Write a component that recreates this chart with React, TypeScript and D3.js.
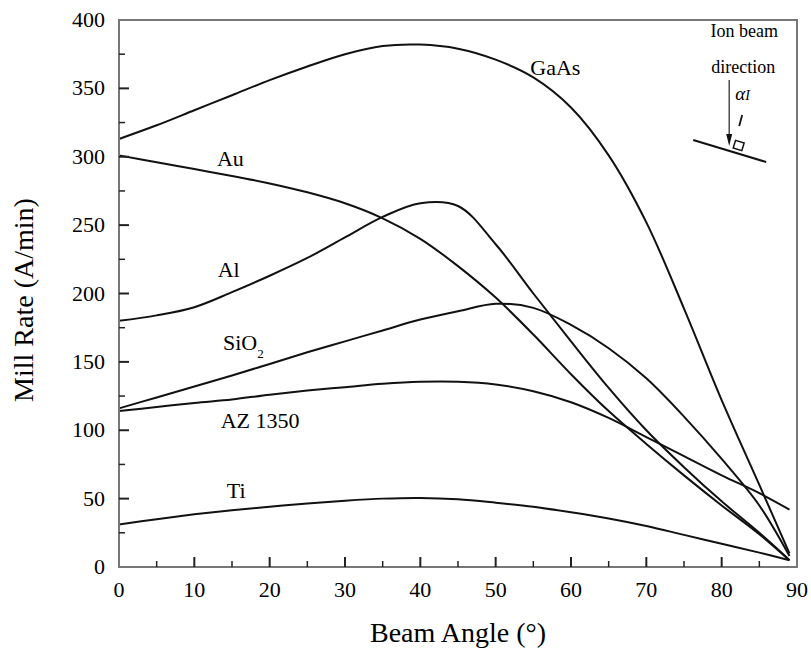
import React, { useEffect, useRef } from 'react';
import * as d3 from 'd3';

// beam angle (deg) and mill rate (A/min)
const angles = [0, 5, 10, 15, 20, 25, 30, 35, 40, 45, 50, 55, 60, 65, 70, 75, 80, 85, 89];
const gaas = [313, 323, 334, 345, 356, 366, 375, 381, 382, 379, 371, 358, 336, 301, 252, 189, 122, 60, 10];
const au = [301, 296, 291, 286, 280.5, 274, 266, 255, 240, 220, 197, 170, 141, 114, 90, 67, 45, 24, 5];
const al = [180, 184, 190, 201, 213, 226, 241, 256, 266, 264, 236, 200, 165, 131, 100, 73, 48, 25, 5];
const sio2 = [116, 124, 132, 140, 148.5, 157, 165, 173, 181, 187, 192.5, 189.5, 177, 160, 138, 110, 79, 45, 8];
const az1350 = [114, 117, 120, 122.5, 126, 129, 131.5, 134, 135.5, 135.5, 133.5, 128.5, 120.5, 109, 95, 81, 67, 54, 42];
const ti = [31, 35, 38.5, 41.5, 44, 46.5, 48.5, 50, 50.5, 49.5, 47, 44, 40, 35.5, 30, 23.5, 17, 10.5, 5];

const series = [gaas, au, al, sio2, az1350, ti];

const xTicks = [0, 10, 20, 30, 40, 50, 60, 70, 80, 90];
const yTicks = [0, 50, 100, 150, 200, 250, 300, 350, 400];

// curve labels: [text, subscript, angle, rate]
const labels: [string, string, number, number][] = [
  ['GaAs', '', 54.6, 360],
  ['Au', '', 13, 293],
  ['Al', '', 13.1, 212],
  ['SiO', '2', 13.8, 159],
  ['AZ 1350', '', 13.5, 101.6],
  ['Ti', '', 14.3, 50.5],
];

const FONT = '"Liberation Serif", "Times New Roman", serif';

export default function App() {
  const svgRef = useRef<SVGSVGElement>(null);

  useEffect(() => {
    const svg = d3.select(svgRef.current);
    svg.selectAll('*').remove();

    const width = 811;
    const height = 651;
    const left = 119, right = 797, top = 20, bottom = 567;

    const x = d3.scaleLinear().domain([0, 90]).range([left, right]);
    const y = d3.scaleLinear().domain([0, 400]).range([bottom, top]);

    svg.attr('width', width).attr('height', height);

    // curves
    const line = d3.line<number>()
      .x((d, i) => x(angles[i]))
      .y((d) => y(d))
      .curve(d3.curveCatmullRom.alpha(0.5));

    svg.append('g')
      .selectAll('path')
      .data(series)
      .enter()
      .append('path')
      .attr('d', (d) => line(d))
      .attr('fill', 'none')
      .attr('stroke', '#111')
      .attr('stroke-width', 2);

    // frame
    svg.append('rect')
      .attr('x', left).attr('y', top)
      .attr('width', right - left).attr('height', bottom - top)
      .attr('fill', 'none')
      .attr('stroke', '#777')
      .attr('stroke-width', 2);

    // inward ticks, minor ones at the halves
    const ticks = svg.append('g').attr('stroke', '#222');
    d3.range(0, 91, 5).forEach((v) => {
      if (v === 0 || v === 90) return;
      const len = v % 10 === 0 ? 10 : 6;
      ticks.append('line')
        .attr('x1', x(v)).attr('x2', x(v))
        .attr('y1', bottom).attr('y2', bottom - len)
        .attr('stroke-width', v % 10 === 0 ? 2 : 1.5);
    });
    d3.range(0, 401, 25).forEach((v) => {
      if (v === 0 || v === 400) return;
      const len = v % 50 === 0 ? 10 : 6;
      ticks.append('line')
        .attr('x1', left).attr('x2', left + len)
        .attr('y1', y(v)).attr('y2', y(v))
        .attr('stroke-width', v % 50 === 0 ? 2 : 1.5);
    });

    svg.append('g')
      .selectAll('text')
      .data(xTicks)
      .enter()
      .append('text')
      .attr('x', (d) => x(d))
      .attr('y', 597)
      .attr('text-anchor', 'middle')
      .style('font-family', FONT)
      .style('font-size', '22px')
      .text((d) => d);

    svg.append('g')
      .selectAll('text')
      .data(yTicks)
      .enter()
      .append('text')
      .attr('x', 105)
      .attr('y', (d) => y(d) + 7)
      .attr('text-anchor', 'end')
      .style('font-family', FONT)
      .style('font-size', '22px')
      .text((d) => d);

    // axis titles
    svg.append('text')
      .attr('x', 458).attr('y', 642)
      .attr('text-anchor', 'middle')
      .style('font-family', FONT)
      .style('font-size', '28px')
      .text('Beam Angle (°)');

    svg.append('text')
      .attr('transform', 'translate(33,300) rotate(-90)')
      .attr('text-anchor', 'middle')
      .style('font-family', FONT)
      .style('font-size', '28px')
      .text('Mill Rate (A/min)');

    // curve labels
    labels.forEach(([txt, sub, a, r]) => {
      const t = svg.append('text')
        .attr('x', x(a)).attr('y', y(r))
        .style('font-family', FONT)
        .style('font-size', '22px')
        .text(txt);
      if (sub) {
        t.append('tspan').attr('dy', 8).style('font-size', '13px').text(sub);
      }
    });

    // inset sketch: ion beam hitting a tilted surface
    const g = svg.append('g').attr('transform', `translate(${x(81)},0)`);
    g.append('text').attr('x', 15).attr('y', 37).attr('text-anchor', 'middle')
      .style('font-family', FONT).style('font-size', '18px').text('Ion beam');
    g.append('text').attr('x', 14).attr('y', 73).attr('text-anchor', 'middle')
      .style('font-family', FONT).style('font-size', '18px').text('direction');
    g.append('line').attr('x1', 0).attr('x2', 0).attr('y1', 80).attr('y2', 136)
      .attr('stroke', '#333').attr('stroke-width', 1.3);
    g.append('path').attr('d', 'M-3,134 L3,134 L0,146 Z').attr('fill', '#111');
    g.append('text').attr('x', 6).attr('y', 100)
      .style('font-family', FONT).style('font-size', '19px').style('font-style', 'italic')
      .text('α').append('tspan').style('font-size', '14px').text('I');
    g.append('line').attr('x1', 10).attr('y1', 126).attr('x2', 13).attr('y2', 115)
      .attr('stroke', '#111').attr('stroke-width', 1.8);
    g.append('line').attr('x1', -36).attr('y1', 140).attr('x2', 37).attr('y2', 162)
      .attr('stroke', '#111').attr('stroke-width', 2);
    g.append('rect').attr('x', 4).attr('y', 140).attr('width', 9).attr('height', 8)
      .attr('transform', 'rotate(17,4,148)')
      .attr('fill', 'none').attr('stroke', '#111').attr('stroke-width', 1.5);
  }, []);

  return <svg ref={svgRef} style={{ position: 'absolute', left: 0, top: 0 }}></svg>;
}
